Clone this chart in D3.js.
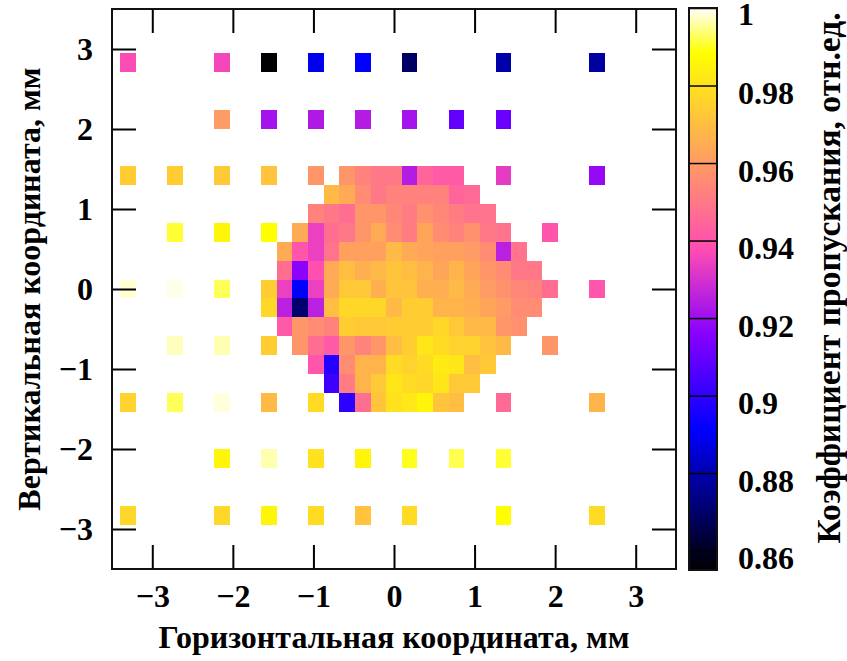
<!DOCTYPE html>
<html>
<head>
<meta charset="utf-8">
<script src="https://cdn.jsdelivr.net/npm/d3@7"></script>
<style>
  body { margin: 0; background: #fff; }
  svg { display: block; }
  text { font-family: "Liberation Serif", "Times New Roman", serif; font-weight: bold; fill: #000; }
</style>
</head>
<body>
<svg id="chart" width="847" height="661"></svg>
<script>
// Measurement grid: horizontal and vertical positions of the scan cells, mm
const colX = [-3.298, -3.104, -2.910, -2.716, -2.522, -2.328, -2.134, -1.940, -1.746, -1.552,
              -1.358, -1.164, -0.970, -0.776, -0.582, -0.388, -0.194, 0.000, 0.194, 0.388,
               0.582, 0.776, 0.970, 1.164, 1.358, 1.552, 1.746, 1.940, 2.134, 2.328, 2.522];
const rowY = [2.827, 2.592, 2.356, 2.120, 1.885, 1.649, 1.414, 1.178, 0.942, 0.707,
              0.471, 0.236, 0.000, -0.236, -0.471, -0.707, -0.942, -1.178, -1.414, -1.649,
              -1.885, -2.120, -2.356, -2.592, -2.827];

// Transmission coefficient per cell (rows top to bottom, columns left to right); null = not measured
const _ = null;
const transmission = [
  [.9372,_,_,_,_,_,.9358,_,_,.8555,_,_,.8884,_,_,.8912,_,_,.8692,_,_,_,_,_,.8792,_,_,_,_,_,.8777],
  [_,_,_,_,_,_,_,_,_,_,_,_,_,_,_,_,_,_,_,_,_,_,_,_,_,_,_,_,_,_,_],
  [_,_,_,_,_,_,_,_,_,_,_,_,_,_,_,_,_,_,_,_,_,_,_,_,_,_,_,_,_,_,_],
  [_,_,_,_,_,_,.9600,_,_,.9213,_,_,.9231,_,_,.9240,_,_,.9213,_,_,.9094,_,_,.9104,_,_,_,_,_,_],
  [_,_,_,_,_,_,_,_,_,_,_,_,_,_,_,_,_,_,_,_,_,_,_,_,_,_,_,_,_,_,_],
  [_,_,_,_,_,_,_,_,_,_,_,_,_,_,_,_,_,_,_,_,_,_,_,_,_,_,_,_,_,_,_],
  [.9742,_,_,.9742,_,_,.9728,_,_,.9713,_,_,.9585,_,.9585,.9529,.9500,.9500,.9240,.9443,.9415,.9415,_,_,.9331,_,_,_,_,_,.9185],
  [_,_,_,_,_,_,_,_,_,_,_,_,_,.9685,.9642,.9557,.9500,.9529,.9529,.9529,.9529,.9443,.9458,_,_,_,_,_,_,_,_],
  [_,_,_,_,_,_,_,_,_,_,_,_,.9529,.9500,.9472,.9585,.9585,.9543,.9514,.9571,.9543,.9514,.9486,.9486,_,_,_,_,_,_,_],
  [_,_,_,.9907,_,_,.9856,_,_,.9884,_,.9642,.9340,.9472,.9500,.9585,.9642,.9557,.9514,.9628,.9557,.9529,.9571,.9500,.9486,_,_,.9401,_,_,_],
  [_,_,_,_,_,_,_,_,_,_,.9642,.9401,.9340,.9486,.9614,.9614,.9614,.9685,.9642,.9628,.9614,.9614,.9600,.9557,.9249,.9486,_,_,_,_,_],
  [_,_,_,_,_,_,_,_,_,_,.9472,.9167,.9387,.9642,.9699,.9657,.9685,.9713,.9699,.9671,.9628,.9671,.9628,.9585,.9557,.9500,.9500,_,_,_,_],
  [.9980,_,_,.9989,_,_,.9925,_,_,.9742,.9340,.8912,.9340,.9642,.9728,.9728,.9657,.9713,.9713,.9657,.9657,.9685,.9642,.9600,.9571,.9543,.9529,.9472,_,_,.9401],
  [_,_,_,_,_,_,_,_,_,.9770,.9249,.8706,.9249,.9699,.9770,.9770,.9770,.9685,.9742,.9742,.9671,.9671,.9657,.9628,.9600,.9557,.9557,_,_,_,_],
  [_,_,_,_,_,_,_,_,_,_,.9415,.9585,.9557,.9529,.9742,.9728,.9728,.9742,.9742,.9742,.9770,.9728,.9685,.9685,.9585,.9571,_,_,_,_,_],
  [_,_,_,.9970,_,_,.9966,_,_,.9742,_,.9585,.9472,.9415,.9585,.9529,.9585,.9699,.9742,.9813,.9785,.9756,.9756,.9713,.9685,_,_,.9585,_,_,_],
  [_,_,_,_,_,_,_,_,_,_,_,_,.9401,.8976,.9557,.9671,.9671,.9785,.9756,.9785,.9828,.9813,.9699,.9728,_,_,_,_,_,_,_],
  [_,_,_,_,_,_,_,_,_,_,_,_,_,.9022,.9514,.9671,.9728,.9813,.9785,.9770,.9813,.9728,.9728,_,_,_,_,_,_,_,_],
  [.9756,_,_,.9925,_,_,.9984,_,_,.9685,_,_,.9785,_,.8994,.9472,.9713,.9799,.9818,.9856,.9713,.9699,_,_,.9458,_,_,_,_,_,.9671],
  [_,_,_,_,_,_,_,_,_,_,_,_,_,_,_,_,_,_,_,_,_,_,_,_,_,_,_,_,_,_,_],
  [_,_,_,_,_,_,_,_,_,_,_,_,_,_,_,_,_,_,_,_,_,_,_,_,_,_,_,_,_,_,_],
  [_,_,_,_,_,_,.9856,_,_,.9964,_,_,.9799,_,_,.9856,_,_,.9898,_,_,.9920,_,_,.9907,_,_,_,_,_,_],
  [_,_,_,_,_,_,_,_,_,_,_,_,_,_,_,_,_,_,_,_,_,_,_,_,_,_,_,_,_,_,_],
  [_,_,_,_,_,_,_,_,_,_,_,_,_,_,_,_,_,_,_,_,_,_,_,_,_,_,_,_,_,_,_],
  [.9770,_,_,_,_,_,.9770,_,_,.9856,_,_,.9785,_,_,.9713,_,_,.9785,_,_,_,_,_,.9884,_,_,_,_,_,.9785]
];

const xTicks = [-3, -2, -1, 0, 1, 2, 3];
const yTicks = [-3, -2, -1, 0, 1, 2, 3];
const cbTicks = [0.86, 0.88, 0.9, 0.92, 0.94, 0.96, 0.98, 1];
const cbRange = [0.855, 1.0];

const xTitle = "Горизонтальная координата, мм";
const yTitle = "Вертикальная координата, мм";
const cbTitle = "Коэффициент пропускания, отн.ед.";

// Layout
const plot = { left: 112, right: 676, top: 9, bottom: 569 };
const bar = { left: 689, right: 717, top: 8, bottom: 570 };
const TICK = 24;
const FS = 32;

const svg = d3.select("#chart");

const x = d3.scaleLinear().domain([-3.5, 3.5]).range([plot.left, plot.right]);
const y = d3.scaleLinear().domain([-3.5, 3.5]).range([plot.bottom, plot.top]);
const intFormat = d3.format("d");

// Palette: black - blue - violet - yellow - white (rgb formulae 30, 31, 32)
function paletteRGB(t) {
  const cl = v => Math.max(0, Math.min(1, v));
  const r = cl(t / 0.32 - 0.78125);
  const g = cl(2 * t - 0.84);
  let b;
  if (t < 0.25) b = 4 * t;
  else if (t < 0.42) b = 1;
  else if (t < 0.92) b = -2 * t + 1.84;
  else b = t / 0.08 - 11.5;
  return d3.rgb(r * 255, g * 255, cl(b) * 255).toString();
}
const color = d3.scaleSequential(paletteRGB).domain(cbRange);

// Heat-map cells
const dx = colX[1] - colX[0];
const dy = rowY[0] - rowY[1];
const cells = [];
transmission.forEach((row, j) => row.forEach((v, i) => {
  if (v !== null) cells.push({ x: colX[i], y: rowY[j], v });
}));

svg.append("g")
  .attr("shape-rendering", "crispEdges")
  .selectAll("rect")
  .data(cells)
  .join("rect")
  .attr("x", d => x(d.x - dx / 2))
  .attr("y", d => y(d.y + dy / 2))
  .attr("width", d => x(d.x + dx / 2) - x(d.x - dx / 2))
  .attr("height", d => y(d.y - dy / 2) - y(d.y + dy / 2))
  .attr("fill", d => color(d.v));

// Axes with inward ticks on all four sides
function styleAxis(g) {
  g.select(".domain").remove();
  g.selectAll(".tick line").attr("stroke", "#000").attr("stroke-width", 2);
  g.selectAll("text").attr("font-size", FS).attr("fill", "#000")
    .attr("font-family", "Liberation Serif, Times New Roman, serif").attr("font-weight", "bold");
}

svg.append("g")
  .attr("transform", `translate(0,${plot.bottom})`)
  .call(d3.axisBottom(x).tickValues(xTicks).tickSize(-TICK).tickPadding(15).tickFormat(intFormat))
  .call(styleAxis);

svg.append("g")
  .attr("transform", `translate(0,${plot.top})`)
  .call(d3.axisTop(x).tickValues(xTicks).tickSize(-TICK).tickFormat(""))
  .call(styleAxis);

svg.append("g")
  .attr("transform", `translate(${plot.left},0)`)
  .call(d3.axisLeft(y).tickValues(yTicks).tickSize(-TICK).tickPadding(19).tickFormat(intFormat))
  .call(styleAxis);

svg.append("g")
  .attr("transform", `translate(${plot.right},0)`)
  .call(d3.axisRight(y).tickValues(yTicks).tickSize(-TICK).tickFormat(""))
  .call(styleAxis);

// Plot frame
svg.append("rect")
  .attr("x", plot.left).attr("y", plot.top)
  .attr("width", plot.right - plot.left).attr("height", plot.bottom - plot.top)
  .attr("fill", "none").attr("stroke", "#111").attr("stroke-width", 2);

// Colour bar
const cb = d3.scaleLinear().domain(cbRange).range([bar.bottom, bar.top]);
const grad = svg.append("defs").append("linearGradient")
  .attr("id", "cbGrad").attr("x1", 0).attr("y1", 1).attr("x2", 0).attr("y2", 0);
d3.range(0, 1.0001, 0.005).forEach(t => {
  grad.append("stop").attr("offset", t).attr("stop-color", paletteRGB(t));
});
svg.append("rect")
  .attr("x", bar.left).attr("y", bar.top)
  .attr("width", bar.right - bar.left).attr("height", bar.bottom - bar.top)
  .attr("fill", "url(#cbGrad)");

const cbAxis = svg.append("g")
  .attr("transform", `translate(${bar.right},0)`)
  .call(d3.axisRight(cb).tickValues(cbTicks).tickSize(-(bar.right - bar.left))
    .tickPadding(21).tickFormat(d3.format("~g")))
  .call(styleAxis);
cbAxis.selectAll(".tick line").attr("stroke-width", 1.5);
cbAxis.selectAll(".tick text").attr("dy", "0.32em").attr("y", d => d === 1 ? 6 : 8);

svg.append("rect")
  .attr("x", bar.left).attr("y", bar.top)
  .attr("width", bar.right - bar.left).attr("height", bar.bottom - bar.top)
  .attr("fill", "none").attr("stroke", "#111").attr("stroke-width", 2);

// Titles
svg.append("text")
  .attr("x", x(0)).attr("y", 648)
  .attr("text-anchor", "middle").attr("font-size", FS)
  .text(xTitle);

svg.append("text")
  .attr("transform", `translate(40,${y(0)}) rotate(-90)`)
  .attr("text-anchor", "middle").attr("font-size", FS)
  .text(yTitle);

svg.append("text")
  .attr("transform", `translate(840,278) rotate(-90)`)
  .attr("text-anchor", "middle").attr("font-size", 33.5)
  .text(cbTitle);
</script>
</body>
</html>
